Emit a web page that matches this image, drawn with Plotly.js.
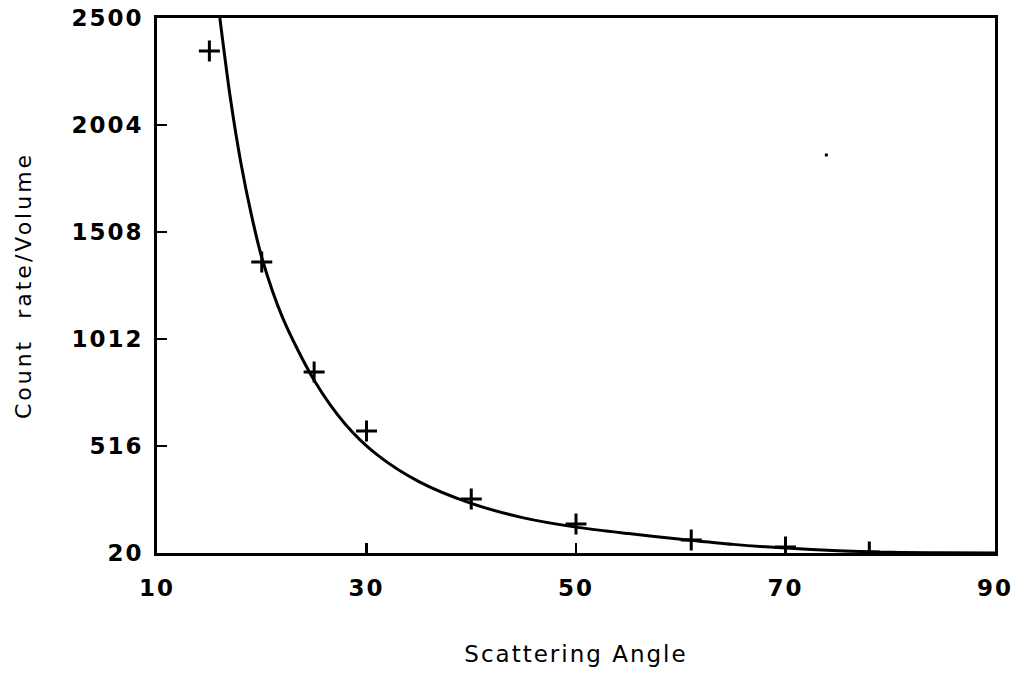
<!DOCTYPE html>
<html>
<head>
<meta charset="utf-8">
<script src="https://cdn.plot.ly/plotly-3.0.1.min.js"></script>
<style>
  html, body { margin: 0; padding: 0; background: #fff; }
  #chart { width: 1022px; height: 677px; }
  .xtick text, .ytick text { letter-spacing: 2px; }
  .xtitle { letter-spacing: 2px; }
  .ytitle { letter-spacing: 3px; }
</style>
</head>
<body>
<div id="chart"></div>
<script>
// Measured points (plus markers)
const angles = [15, 20, 25, 30, 40, 50, 61, 70, 78];
const counts = [2347, 1369, 859, 586, 270, 154, 80, 48, 25];

// Fitted curve
const curveAngles = [16, 17, 18, 19, 20, 22, 25, 28, 31, 35, 40, 45, 50, 55, 60, 65, 70, 75, 80, 85, 90];
const curveCounts = [2500, 2130, 1830, 1590, 1390, 1110, 821, 616, 476, 351, 250, 183, 140, 110, 84, 60, 43, 31, 23, 21, 20];

// stray speck in the scan
const speckX = [73.9];
const speckY = [1865];

const xTicks = [10, 30, 50, 70, 90];
const xTickText = ['10', '30', '50', '70', '90'];
const yTicks = [20, 516, 1012, 1508, 2004, 2500];
const yTickText = ['20', '516', '1012', '1508', '2004', '2500'];

const FONT = 'DejaVu Sans, Arial, sans-serif';

const traces = [
  {
    x: curveAngles, y: curveCounts, type: 'scatter', mode: 'lines',
    line: { color: '#000', width: 3, shape: 'spline', smoothing: 0.8 },
    hoverinfo: 'skip', cliponaxis: true
  },
  {
    x: angles, y: counts, type: 'scatter', mode: 'markers',
    marker: { symbol: 'cross-thin', size: 15, color: '#000', line: { color: '#000', width: 3 } }
  },
  {
    x: speckX, y: speckY, type: 'scatter', mode: 'markers',
    marker: { symbol: 'square', size: 3, color: '#000' }
  }
];

const layout = {
  width: 1022, height: 677,
  margin: { l: 157, r: 27, t: 18, b: 124 },
  paper_bgcolor: '#fff', plot_bgcolor: '#fff',
  showlegend: false,
  font: { family: FONT, color: '#000', size: 23 },
  xaxis: {
    range: [10, 90], tickvals: xTicks, ticktext: xTickText,
    ticks: 'inside', ticklen: 10, tickwidth: 2.5, tickcolor: '#000',
    showline: true, linecolor: '#000', linewidth: 3, mirror: true,
    showgrid: false, zeroline: false,
    tickfont: { family: FONT, size: 23, color: '#000', weight: 'bold' },
    ticklabelstandoff: 12,
    title: { text: 'Scattering Angle', font: { family: FONT, size: 23, color: '#000' }, standoff: 47 },
    automargin: false
  },
  yaxis: {
    range: [20, 2500], tickvals: yTicks, ticktext: yTickText,
    ticks: 'inside', ticklen: 10, tickwidth: 2.5, tickcolor: '#000',
    showline: true, linecolor: '#000', linewidth: 3, mirror: true,
    showgrid: false, zeroline: false,
    tickfont: { family: FONT, size: 23, color: '#000', weight: 'bold' },
    ticklabelstandoff: 6,
    title: { text: 'Count  rate/Volume', font: { family: FONT, size: 22, color: '#000' }, standoff: 34 },
    automargin: false
  }
};

Plotly.newPlot('chart', traces, layout, { displayModeBar: false, staticPlot: true });
</script>
</body>
</html>
